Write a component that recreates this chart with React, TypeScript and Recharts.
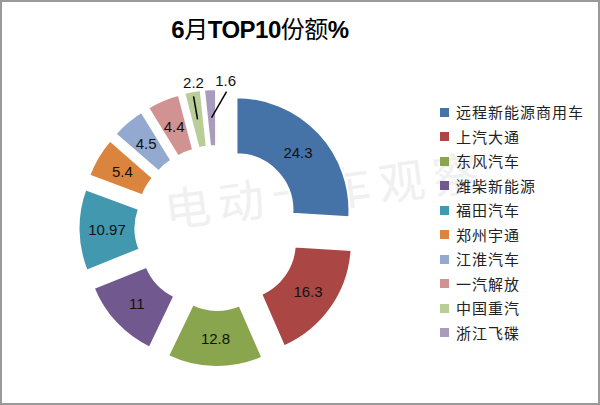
import React from 'react';
import { PieChart, Pie, Cell, Legend, Sector } from 'recharts';

const names = ['远程新能源商用车', '上汽大通', '东风汽车', '潍柴新能源', '福田汽车', '郑州宇通', '江淮汽车', '一汽解放', '中国重汽', '浙江飞碟'];
const values = [24.3, 16.3, 12.8, 11, 10.97, 5.4, 4.5, 4.4, 2.2, 1.6];
const colors = ['#4572A7', '#AA4643', '#89A54E', '#71588F', '#4198AF', '#DB843D', '#93A9CF', '#D19392', '#B9CD96', '#A99BBD'];
const titleParts = [
  { text: '6', bold: true },
  { text: '月', bold: false },
  { text: 'TOP10', bold: true },
  { text: '份额', bold: false },
  { text: '%', bold: true },
];
const watermark = '电动卡车观察';

const data = names.map((name, i) => ({ name, value: values[i] }));

const EXPLODE = 26;
const RAD = Math.PI / 180;
const numFont = '"Liberation Sans", Arial, sans-serif';

const ExplodedSector = (props: any) => {
  const { cx, cy, midAngle } = props;
  const dx = EXPLODE * Math.cos(-midAngle * RAD);
  const dy = EXPLODE * Math.sin(-midAngle * RAD);
  return <Sector {...props} cx={cx + dx} cy={cy + dy} />;
};

const renderLabel = (props: any) => {
  const { cx, cy, midAngle, innerRadius, outerRadius, value, index } = props;
  const r = (innerRadius + outerRadius) / 2 + EXPLODE;
  const x = cx + r * Math.cos(-midAngle * RAD);
  const y = cy + r * Math.sin(-midAngle * RAD);
  const style = { fontFamily: numFont, fontSize: 15, fill: '#111' };
  if (index === names.length - 2 || index === names.length - 1) {
    const isLast = index === names.length - 1;
    const lx = x + (isLast ? 14 : -4);
    const ly = y - 37;
    const sx = x + (isLast ? 15 : -4);
    const sy = y - (isLast ? 26 : 23);
    return (
      <g>
        <line x1={sx} y1={sy} x2={x} y2={y} stroke="#000" strokeWidth={1.5} />
        <text x={lx} y={ly} textAnchor="middle" dominantBaseline="central" style={style}>{String(value)}</text>
      </g>
    );
  }
  return (
    <text x={x} y={y} textAnchor="middle" dominantBaseline="central" style={style}>{String(value)}</text>
  );
};

const renderLegend = (props: any) => {
  const payload = [...(props.payload || [])].sort(
    (a: any, b: any) => names.indexOf(a.value) - names.indexOf(b.value)
  );
  return (
    <div>
      {payload.map((p: any, i: number) => (
        <div key={i} style={{ display: 'flex', alignItems: 'center', height: 24.5 }}>
          <span style={{ display: 'inline-block', width: 9, height: 9, background: p.color, marginRight: 7 }} />
          <span style={{ fontFamily: '"Noto Sans CJK SC", sans-serif', fontSize: 15, letterSpacing: 1, color: '#222', lineHeight: '18px' }}>{p.value}</span>
        </div>
      ))}
    </div>
  );
};

export default function App() {
  return (
    <div style={{ position: 'relative', width: 600, height: 405, background: '#fff', overflow: 'hidden' }}>
      <style>{'body{margin:0;}'}</style>
      <div
        style={{
          position: 'absolute',
          left: 325,
          top: 188,
          transform: 'translate(-50%, -50%) rotate(-7deg)',
          fontFamily: '"Noto Sans CJK SC", sans-serif',
          fontSize: 46,
          letterSpacing: 8,
          color: '#f0f0f0',
          whiteSpace: 'nowrap',
        }}
      >
        {watermark}
      </div>
      <div
        style={{
          position: 'absolute',
          left: 260,
          top: 16,
          transform: 'translateX(-50%)',
          fontFamily: '"Liberation Sans", "Noto Sans CJK SC", sans-serif',
          fontSize: 24,
          letterSpacing: -0.5,
          lineHeight: '28px',
          color: '#000',
          whiteSpace: 'nowrap',
        }}
      >
        {titleParts.map((p, i) => (
          <span key={i} style={{ fontWeight: p.bold ? 'bold' : 'normal' }}>{p.text}</span>
        ))}
      </div>
      <div style={{ position: 'absolute', left: 0, top: 0 }}>
        <PieChart width={600} height={405} margin={{ top: 0, right: 0, bottom: 0, left: 0 }}>
          <Pie
            data={data}
            dataKey="value"
            nameKey="name"
            cx={217.5}
            cy={228}
            innerRadius={56}
            outerRadius={113}
            startAngle={90}
            endAngle={-270}
            stroke="#fff"
            strokeWidth={2}
            shape={ExplodedSector}
            label={renderLabel}
            labelLine={false}
            isAnimationActive={false}
          >
            {data.map((d, i) => (
              <Cell key={d.name} fill={colors[i]} />
            ))}
          </Pie>
          <Legend
            layout="vertical"
            align="center"
            verticalAlign="middle"
            wrapperStyle={{ left: 440, top: 100, width: 160 }}
            content={renderLegend}
          />
        </PieChart>
      </div>
      <div
        style={{
          position: 'absolute',
          left: 0,
          top: 0,
          width: 600,
          height: 405,
          boxSizing: 'border-box',
          border: '2px solid #9a9a9a',
          pointerEvents: 'none',
        }}
      />
    </div>
  );
}
